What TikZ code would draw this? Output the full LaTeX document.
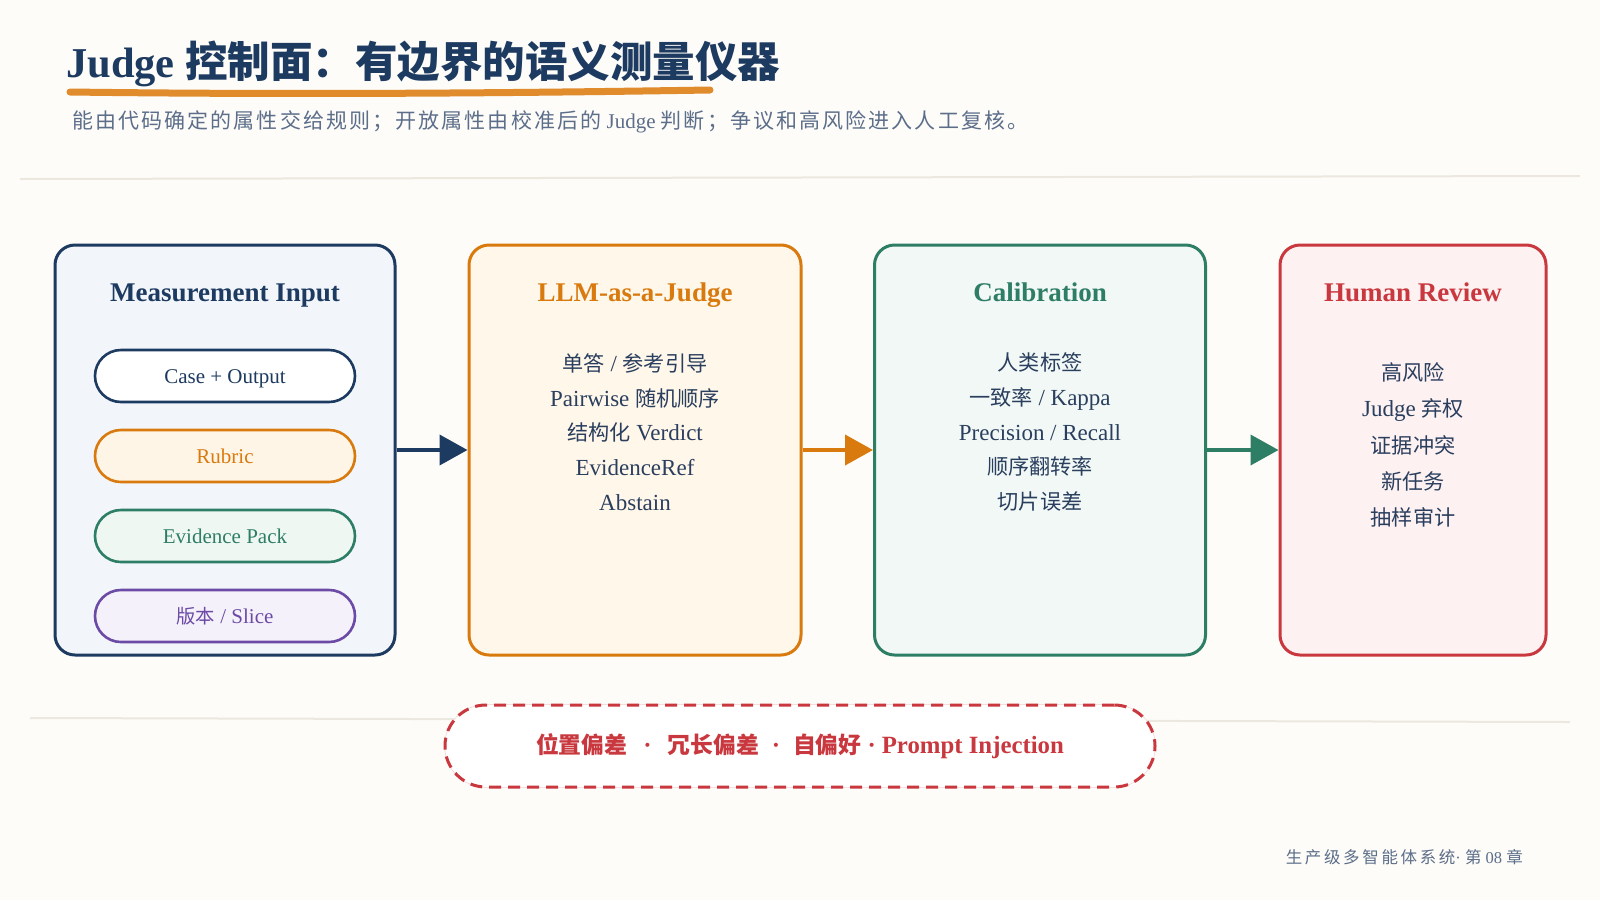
\documentclass[tikz,border=0pt]{standalone}
\usepackage{fontspec}
\setmainfont{Liberation Serif}
% CJK faces: scaled one to sit beside serif Latin, plain one for headings,
% letter-spaced one for the lead line and the footer
\newfontfamily\cjk[Scale=0.92]{Noto Sans CJK SC}
\newfontfamily\cjkT{Noto Sans CJK SC}
\newfontfamily\cjkS[LetterSpace=10]{Noto Sans CJK SC}
\newfontfamily\cjkF[LetterSpace=16]{Noto Sans CJK SC}
\newcommand\zh[1]{{\cjk #1}}
\newcommand\zhT[1]{{\cjkT #1}}
\newcommand\zhS[1]{{\cjkS #1}}
\newcommand\zhF[1]{{\cjkF #1}}
\newcommand\middot[1]{\hspace{#1}·\hspace{#1}}
\usetikzlibrary{arrows.meta}

\definecolor{bg}{HTML}{FDFCF8}
\definecolor{cNavy}{HTML}{1D3A60}
\definecolor{cInk}{HTML}{2A3E5E}
\definecolor{cSub}{HTML}{5C6E8A}
\definecolor{cOrange}{HTML}{D97A0E}
\definecolor{cBrush}{HTML}{E08B2C}
\definecolor{cGreen}{HTML}{2E7D65}
\definecolor{cRed}{HTML}{C9383E}
\definecolor{cPurple}{HTML}{6B4BA6}
\definecolor{fNavy}{HTML}{F2F6FB}
\definecolor{fOrange}{HTML}{FFF7EA}
\definecolor{fGreen}{HTML}{F1F8F5}
\definecolor{fRed}{HTML}{FDF1F1}
\definecolor{fPurple}{HTML}{F5F1FA}
\definecolor{fPillGreen}{HTML}{EFF7F3}
\definecolor{fPillOrange}{HTML}{FFF5E6}
\definecolor{cRule}{HTML}{ECE8DF}
\definecolor{cPink}{HTML}{F3CDCE}

\begin{document}
\begin{tikzpicture}[x=1pt,y=-1pt,
  panel/.style={draw, line width=3pt, rounded corners=20pt, minimum height=410pt},
  ptitle/.style={inner sep=0pt, anchor=base, font=\fontsize{27}{30}\selectfont\bfseries},
  plist/.style={inner sep=0pt, align=center, text=cInk, font=\fontsize{23}{34.8}\selectfont},
  pill/.style={draw, line width=2.6pt, rounded corners=26pt, minimum width=260pt,
    minimum height=52pt, text height=14pt, text depth=0pt, font=\fontsize{21}{23}\selectfont},
  flow/.style={line width=4pt, -{Triangle[length=28pt,width=30pt]}},
  sep/.style={cRule, line width=2pt}]

% page
\useasboundingbox (0,0) rectangle (1600,900);
\fill[bg] (0,0) rectangle (1600,900);

% header
\node[anchor=west, inner sep=0pt, text=cNavy, font=\fontsize{42.5}{46}\selectfont\bfseries]
  (title) at (66,64) {Judge \zhT{控制面：有边界的语义测量仪器}};
\draw[cBrush, line width=7pt, line cap=round]
  (70,92) .. controls (300,95) and (520,93) .. (710,90);
\node[anchor=west, inner sep=0pt, text=cSub, font=\fontsize{21}{24}\selectfont]
  (subtitle) at (72,122) {\zhS{能由代码确定的属性交给规则；开放属性由校准后的} Judge \zhS{判断；争议和高风险进入人工复核。}};
\draw[sep] (20,179) -- (1580,176);
\draw[sep] (30,718) -- (1570,722);

% panels
\node[panel, draw=cNavy, fill=fNavy, minimum width=340pt] (inp) at (225,450) {};
\node[panel, draw=cOrange, fill=fOrange, minimum width=332pt] (judge) at (635,450) {};
\node[panel, draw=cGreen, fill=fGreen, minimum width=331pt] (calib) at (1040,450) {};
\node[panel, draw=cRed, fill=fRed, minimum width=266pt] (human) at (1413,450) {};

% panel titles
\node[ptitle, text=cNavy] (inpT) at (225,301) {Measurement Input};
\node[ptitle, text=cOrange] (judgeT) at (635,301) {LLM-as-a-Judge};
\node[ptitle, text=cGreen] (calibT) at (1040,301) {Calibration};
\node[ptitle, text=cRed] (humanT) at (1413,301) {Human Review};

% measurement inputs
\node[pill, draw=cNavy, fill=white, text=cNavy] (case) at (225,376) {Case + Output};
\node[pill, draw=cOrange, fill=fPillOrange, text=cOrange] (rubric) at (225,456) {Rubric};
\node[pill, draw=cGreen, fill=fPillGreen, text=cGreen] (evid) at (225,536) {Evidence Pack};
\node[pill, draw=cPurple, fill=fPurple, text=cPurple] (slice) at (225,616) {\zh{版本} / Slice};

% panel contents
\node[plist] (judgeL) at (635,432)
  {\zh{单答} / \zh{参考引导}\\ Pairwise \zh{随机顺序}\\ \zh{结构化} Verdict\\ EvidenceRef\\ Abstain};
\node[plist] (calibL) at (1040,432)
  {\zh{人类标签}\\ \zh{一致率} / Kappa\\ Precision / Recall\\ \zh{顺序翻转率}\\ \zh{切片误差}};
\node[plist, font=\fontsize{23}{36.2}\selectfont] (humanL) at (1413,445)
  {\zh{高风险}\\ Judge \zh{弃权}\\ \zh{证据冲突}\\ \zh{新任务}\\ \zh{抽样审计}};

% flow
\draw[flow, cNavy] (inp.east) -- (judge.west);
\draw[flow, cOrange] (judge.east) -- (calib.west);
\draw[flow, cGreen] (calib.east) -- (human.west);

% judge biases
\node[draw=cRed, line width=3pt, dash pattern=on 12pt off 7pt, fill=white,
  preaction={draw=cPink, line width=1.2pt, solid},
  rounded corners=41pt, minimum width=710pt, minimum height=82pt,
  text=cRed, font=\fontsize{24.8}{27}\selectfont\bfseries]
  (bias) at (800,746) {\zh{位置偏差}\middot{16pt}\zh{冗长偏差}\middot{13pt}\zh{自偏好}\middot{6pt}Prompt Injection};

% footer
\node[anchor=east, inner sep=0pt, text=cSub, font=\fontsize{16.5}{18}\selectfont]
  (footer) at (1523,857) {\zhF{生产级多智能体系统}· \zhF{第} 08 \zhF{章}};
\end{tikzpicture}
\end{document}
